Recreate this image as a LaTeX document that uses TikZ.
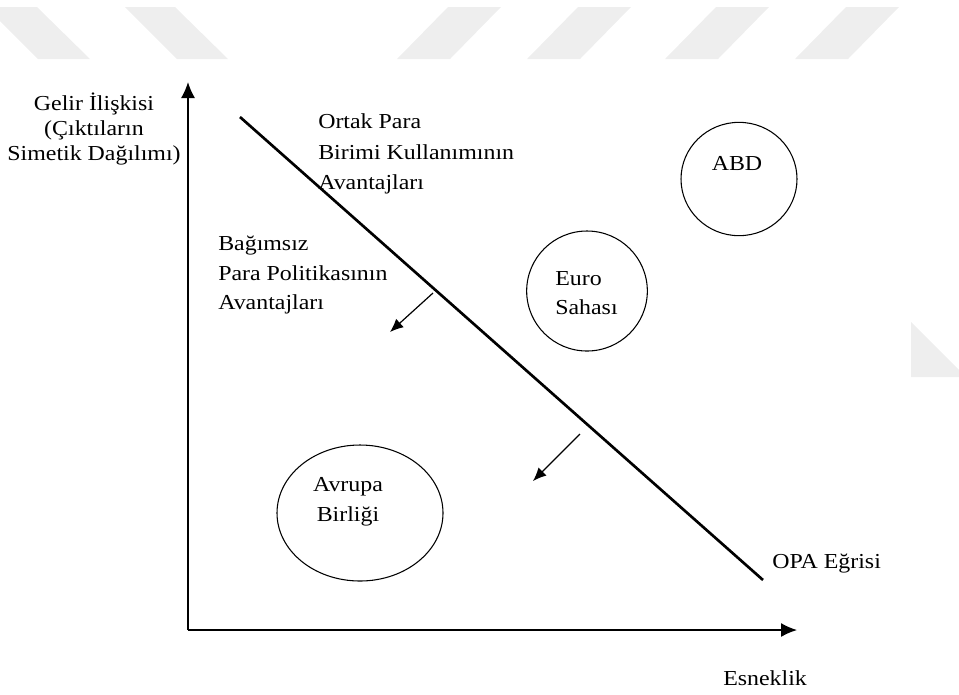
\documentclass[tikz,border=0pt]{standalone}
\usepackage{fontspec}
\setmainfont{Liberation Serif}[FakeStretch=1.12]
\usetikzlibrary{arrows.meta,shapes.geometric}
\definecolor{markgray}{HTML}{EEEEEE}
\begin{document}
\begin{tikzpicture}[x=0.75pt,y=-0.75pt,
    txt/.style={inner sep=0pt,font=\fontsize{16pt}{#1}\selectfont},
    txt/.default={18pt},
    axis/.style={line width=1.1pt,-{Latex[length=12pt,width=10.5pt]}},
    pointer/.style={line width=0.9pt,-{Latex[length=10pt,width=8.5pt]}},
    ring/.style={draw,line width=0.8pt,ellipse,inner sep=0pt}]
  \useasboundingbox (0,0) rectangle (959,694);
  % watermark bands
  \fill[markgray] (-14,7) -- (37,7) -- (90,59) -- (38,59) -- cycle;
  \fill[markgray] (125,7) -- (175,7) -- (228,59) -- (177,59) -- cycle;
  \foreach \x in {397,527,665,795} {
    \fill[markgray] (\x,59) -- ++(53,0) -- ++(51,-52) -- ++(-53,0) -- cycle;
  }
  \fill[markgray] (911,322) -- (966,377) -- (911,377) -- cycle;
  % axes
  \coordinate (origin) at (188,630);
  \coordinate (ytip) at (188,82);
  \coordinate (xtip) at (797,630);
  \draw[axis] (origin) -- (ytip);
  \draw[axis] (origin) -- (xtip);
  \node[txt=18.75pt,align=center] (ylab) at (94,129) {Gelir İlişkisi\\(Çıktıların\\Simetik Dağılımı)};
  \node[txt,anchor=west] (xlab) at (723,678) {Esneklik};
  % OPA line
  \coordinate (opastart) at (240,117);
  \coordinate (opaend) at (763,580);
  \draw[line width=2pt] (opastart) -- (opaend);
  \node[txt,anchor=west] (opalab) at (772,563) {OPA Eğrisi};
  % regions
  \node[txt=23pt,align=left,anchor=west] (ortak) at (318,154) {Ortak Para\\Birimi Kullanımının\\Avantajları};
  \node[txt=22pt,align=left,anchor=west] (bagimsiz) at (218,275) {Bağımsız\\Para Politikasının\\Avantajları};
  \coordinate (s1) at (433,293);
  \coordinate (e1) at (390,332);
  \coordinate (s2) at (580,434);
  \coordinate (e2) at (533,481);
  \draw[pointer] (s1) -- (e1);
  \draw[pointer] (s2) -- (e2);
  % areas
  \node[ring,minimum width=87pt,minimum height=85pt] (abd) at (739,179) {};
  \node[txt] (abdlab) at (737,163) {ABD};
  \node[ring,minimum width=90.5pt,minimum height=90pt] (euro) at (587,291) {};
  \node[txt=21.5pt,align=left,anchor=west] (eurolab) at (555,293) {Euro\\Sahası};
  \node[ring,minimum width=124.5pt,minimum height=102pt] (ab) at (360,513) {};
  \node[txt=22.5pt,align=center] (ablab) at (348,502) {Avrupa\\Birliği};
\end{tikzpicture}
\end{document}
